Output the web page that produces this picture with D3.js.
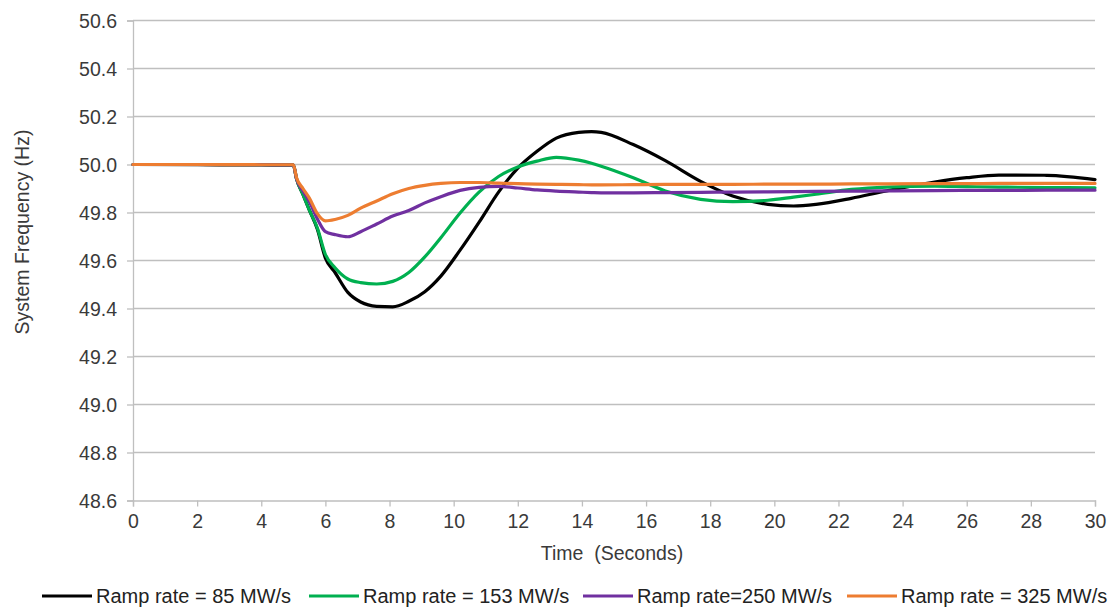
<!DOCTYPE html>
<html>
<head>
<meta charset="utf-8">
<script src="https://cdn.jsdelivr.net/npm/d3@7"></script>
<style>
  html, body { margin: 0; padding: 0; background: #fff; }
  svg { display: block; font-family: "Liberation Sans", Arial, sans-serif; }
  .tick-label { font-size: 19.5px; fill: #3a3a3a; }
  .axis-title { font-size: 19.5px; fill: #3a3a3a; white-space: pre; }
  .legend-text { font-size: 20px; fill: #222; }
</style>
</head>
<body>
<svg id="chart" width="1115" height="611"></svg>
<script>
// Simulated time (s)
const timeSeconds = [0, 2, 4, 5, 5.1, 5.3, 5.5, 5.75, 6.0, 6.3, 6.7, 7.1, 7.6, 8.1, 8.6, 9.1, 9.6,
  10.2, 10.8, 11.4, 12.0, 12.6, 13.2, 13.9, 14.3, 14.6, 15.6, 16.6, 17.7, 18.7, 19.8, 20.6, 21.3,
  22.4, 23.5, 25.0, 26.0, 27.0, 28.5, 30];

// System frequency (Hz) for each ramp rate
const freq85 = [50.0, 49.999, 49.998, 49.997, 49.94, 49.875, 49.81, 49.73, 49.61, 49.55, 49.467,
  49.427, 49.409, 49.407, 49.43, 49.47, 49.535, 49.643, 49.761, 49.885, 49.985, 50.055, 50.11,
  50.134, 50.137, 50.134, 50.083, 50.016, 49.93, 49.869, 49.834, 49.827, 49.834, 49.859, 49.89,
  49.927, 49.945, 49.956, 49.955, 49.937];
const freq153 = [50.0, 50.0, 49.999, 49.998, 49.94, 49.875, 49.81, 49.735, 49.625, 49.57, 49.523,
  49.508, 49.502, 49.513, 49.55, 49.615, 49.695, 49.798, 49.886, 49.95, 49.99, 50.014, 50.03,
  50.018, 50.005, 49.993, 49.945, 49.89, 49.855, 49.845, 49.851, 49.864, 49.876, 49.896, 49.906,
  49.91, 49.908, 49.906, 49.904, 49.903];
const freq250 = [50.0, 50.0, 49.999, 49.998, 49.94, 49.89, 49.845, 49.773, 49.72, 49.708, 49.699,
  49.72, 49.752, 49.785, 49.808, 49.84, 49.866, 49.892, 49.905, 49.909, 49.902, 49.894, 49.889,
  49.885, 49.883, 49.882, 49.882, 49.883, 49.884, 49.885, 49.886, 49.887, 49.888, 49.889, 49.89,
  49.891, 49.892, 49.892, 49.893, 49.893];
const freq325 = [50.0, 50.0, 49.999, 49.999, 49.945, 49.9, 49.86, 49.795, 49.765, 49.771, 49.788,
  49.818, 49.848, 49.878, 49.9, 49.913, 49.921, 49.925, 49.925, 49.922, 49.92, 49.918, 49.917,
  49.916, 49.915, 49.915, 49.916, 49.917, 49.917, 49.917, 49.918, 49.918, 49.918, 49.919, 49.919,
  49.92, 49.92, 49.921, 49.921, 49.921];

const seriesNames = ["Ramp rate = 85 MW/s", "Ramp rate = 153 MW/s", "Ramp rate=250 MW/s", "Ramp rate = 325 MW/s"];
const seriesColors = ["#000000", "#00b050", "#7030a0", "#ed7d31"];
const seriesValues = [freq85, freq153, freq250, freq325];

const xTicks = d3.range(0, 31, 2);
const yTicks = [48.6, 48.8, 49.0, 49.2, 49.4, 49.6, 49.8, 50.0, 50.2, 50.4, 50.6];

const svg = d3.select("#chart");
const plotLeft = 133, plotRight = 1095, plotTop = 20.5, plotBottom = 500.5;

const x = d3.scaleLinear().domain([0, 30]).range([plotLeft, plotRight]);
const y = d3.scaleLinear().domain([48.6, 50.6]).range([plotBottom, plotTop]);

const gridColor = "#bfbfbf";

// Horizontal gridlines
svg.append("g").selectAll("line").data(yTicks.slice(1)).join("line")
  .attr("x1", plotLeft).attr("x2", plotRight)
  .attr("y1", d => y(d)).attr("y2", d => y(d))
  .attr("stroke", gridColor).attr("stroke-width", 1.3);

// Y axis
const yAxis = svg.append("g").attr("transform", `translate(${plotLeft},0)`)
  .call(d3.axisLeft(y).tickValues(yTicks).tickFormat(d3.format(".1f")).tickSize(6).tickPadding(10));
yAxis.attr("font-size", null).attr("font-family", null);
yAxis.select(".domain").attr("stroke", gridColor).attr("stroke-width", 1.3);
yAxis.selectAll(".tick line").attr("stroke", gridColor).attr("stroke-width", 1.3);
yAxis.selectAll(".tick text").attr("class", "tick-label").attr("dy", "0.36em");

// X axis
const xAxis = svg.append("g").attr("transform", `translate(0,${plotBottom})`)
  .call(d3.axisBottom(x).tickValues(xTicks).tickFormat(d3.format("d")).tickSize(6).tickPadding(8));
xAxis.attr("font-size", null).attr("font-family", null);
xAxis.select(".domain").attr("stroke", gridColor).attr("stroke-width", 1.3);
xAxis.selectAll(".tick line").attr("stroke", gridColor).attr("stroke-width", 1.3);
xAxis.selectAll(".tick text").attr("class", "tick-label");

// Frequency traces
const line = d3.line()
  .x((d, i) => x(timeSeconds[i]))
  .y(d => y(d))
  .curve(d3.curveMonotoneX);

svg.append("g").selectAll("path").data(seriesValues).join("path")
  .attr("d", d => line(d))
  .attr("fill", "none")
  .attr("stroke", (d, i) => seriesColors[i])
  .attr("stroke-width", 3.2)
  .attr("stroke-linejoin", "round")
  .attr("stroke-linecap", "round");

// Axis titles
svg.append("text").attr("class", "axis-title")
  .attr("x", 612).attr("y", 560).attr("text-anchor", "middle")
  .text("Time  (Seconds)");
svg.append("text").attr("class", "axis-title")
  .attr("transform", "translate(29,232) rotate(-90)")
  .attr("text-anchor", "middle")
  .text("System Frequency (Hz)");

// Legend
const legendX = [42, 309, 583, 847];
const legend = svg.append("g").selectAll("g").data(seriesNames).join("g")
  .attr("transform", (d, i) => `translate(${legendX[i]},596)`);
legend.append("line")
  .attr("x1", 0).attr("x2", 50).attr("y1", 0).attr("y2", 0)
  .attr("stroke", (d, i) => seriesColors[i]).attr("stroke-width", 3.2);
legend.append("text").attr("class", "legend-text")
  .attr("x", 54).attr("y", 7)
  .text(d => d);
</script>
</body>
</html>
